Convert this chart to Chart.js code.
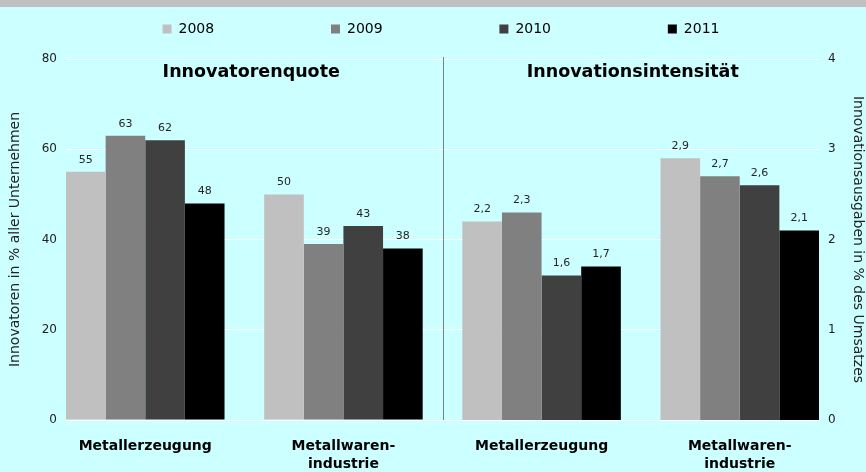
<!DOCTYPE html>
<html>
<head>
<meta charset="utf-8">
<script src="https://cdn.jsdelivr.net/npm/chart.js@4/dist/chart.umd.min.js"></script>
<style>
  html, body { margin: 0; padding: 0; background: #ccffff; }
  #chart { display: block; background: linear-gradient(#c0c0c0 0, #c0c0c0 7px, #ccffff 7px); }
</style>
</head>
<body>
<canvas id="chart" width="866" height="472"></canvas>
<script>
const years = ['2008', '2009', '2010', '2011'];
const branches = ['Metallerzeugung', ['Metallwaren-', 'industrie']];
const panelTitles = ['Innovatorenquote', 'Innovationsintensität'];

// Innovatorenquote (% aller Unternehmen), per branch
const quote2008 = [55, 50];
const quote2009 = [63, 39];
const quote2010 = [62, 43];
const quote2011 = [48, 38];

// Innovationsintensität (% des Umsatzes), per branch
const intens2008 = [2.2, 2.9];
const intens2009 = [2.3, 2.7];
const intens2010 = [1.6, 2.6];
const intens2011 = [1.7, 2.1];

const colors = ['#c0c0c0', '#808080', '#404040', '#000000'];

const quoteData = [quote2008, quote2009, quote2010, quote2011];
const intensData = [intens2008, intens2009, intens2010, intens2011];
const xLabels = branches.concat(branches);

const datasets = [];
years.forEach((yr, k) => {
  datasets.push({
    label: yr, stack: yr, yAxisID: 'y', backgroundColor: colors[k],
    data: quoteData[k].map((v, i) => ({ x: i, y: v }))
  });
});
years.forEach((yr, k) => {
  datasets.push({
    label: yr, stack: yr, yAxisID: 'y2', backgroundColor: colors[k],
    data: intensData[k].map((v, i) => ({ x: i + 2, y: v }))
  });
});

// value labels, panel titles and the divider between the two panels
const extras = {
  id: 'extras',
  afterDatasetsDraw(chart) {
    const ctx = chart.ctx;
    const area = chart.chartArea;
    const xs = chart.scales.x;
    ctx.save();
    ctx.font = '11px "DejaVu Sans"';
    ctx.fillStyle = '#262626';
    ctx.textAlign = 'center';
    ctx.textBaseline = 'middle';
    chart.data.datasets.forEach((ds, d) => {
      chart.getDatasetMeta(d).data.forEach((bar, i) => {
        ctx.fillText(String(ds.data[i].y).replace('.', ','), bar.x, bar.y - 12);
      });
    });

    const mid = xs.getPixelForValue(1.5);
    ctx.strokeStyle = '#7f7f7f';
    ctx.lineWidth = 1;
    ctx.beginPath();
    ctx.moveTo(Math.round(mid) + 0.5, area.top - 2);
    ctx.lineTo(Math.round(mid) + 0.5, area.bottom);
    ctx.stroke();

    ctx.font = 'bold 17.5px "DejaVu Sans"';
    ctx.fillStyle = '#000';
    ctx.fillText(panelTitles[0], (area.left + mid) / 2 - 3, area.top + 13);
    ctx.fillText(panelTitles[1], (mid + area.right) / 2 + 2, area.top + 13);
    ctx.restore();
  }
};

Chart.defaults.font.family = '"DejaVu Sans"';

new Chart(document.getElementById('chart'), {
  type: 'bar',
  data: { datasets: datasets },
  options: {
    responsive: false,
    animation: false,
    layout: { padding: { top: 12, left: 16 } },
    datasets: { bar: { barPercentage: 1, categoryPercentage: 0.8 } },
    scales: {
      x: {
        type: 'linear', min: -0.4, max: 3.4, bounds: 'data', offset: false,
        grid: { display: false, drawTicks: false, offset: false },
        border: { display: false },
        afterBuildTicks: s => { s.ticks = xLabels.map((_, i) => ({ value: i })); },
        ticks: {
          autoSkip: false, maxRotation: 0,
          padding: 17, color: '#000',
          font: { size: 14, weight: 'bold', lineHeight: 1.3 },
          callback: v => xLabels[v]
        },
        afterFit: s => { s.height = 52; }
      },
      y: {
        position: 'left', min: 0, max: 80, stacked: false,
        grid: { color: '#ffffff', drawTicks: false },
        border: { display: false },
        ticks: { stepSize: 20, padding: 9, color: '#222', font: { size: 12 } },
        title: {
          display: true, text: 'Innovatoren in % aller Unternehmen',
          color: '#222', font: { size: 14 }, padding: { top: -9, bottom: 0 }
        },
        afterFit: s => { s.width = 50; }
      },
      y2: {
        position: 'right', min: 0, max: 4, stacked: false,
        grid: { display: false, drawTicks: false },
        border: { display: false },
        ticks: { stepSize: 1, padding: 9, color: '#222', font: { size: 12 } },
        title: {
          display: true, text: 'Innovationsausgaben in % des Umsatzes',
          color: '#222', font: { size: 14 }, padding: { top: 0, bottom: 0 }
        },
        afterFit: s => { s.width = 47; }
      }
    },
    plugins: {
      tooltip: { enabled: false },
      legend: {
        position: 'top',
        weight: 3000,
        labels: {
          boxWidth: 9, boxHeight: 9, padding: 10, color: '#000', font: { size: 14 },
          generateLabels(chart) {
            const items = Chart.defaults.plugins.legend.labels.generateLabels(chart)
              .filter(it => it.datasetIndex < years.length);
            items.forEach((it, k) => {
              if (k < items.length - 1) it.text += '\u00a0'.repeat(24);
              it.lineWidth = 0;
            });
            return items;
          }
        }
      },
      subtitle: {
        display: true, text: '',
        font: { size: 10, lineHeight: 1.2 },
        padding: { top: 1, bottom: 0 }
      }
    }
  },
  plugins: [extras]
});
</script>
</body>
</html>
